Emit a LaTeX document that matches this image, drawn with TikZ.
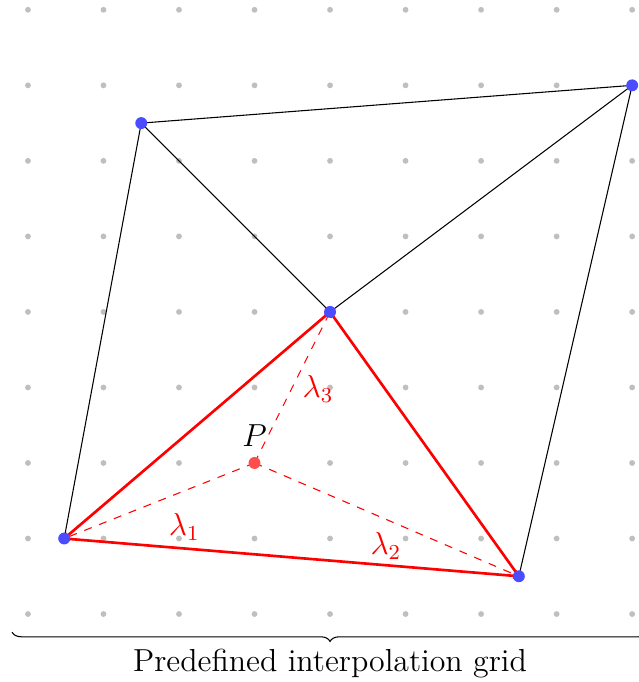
\documentclass[tikz,border=0pt]{standalone}
\usetikzlibrary{decorations.pathreplacing}
\begin{document}
\begin{tikzpicture}[
  griddot/.style={circle,fill=black!25,inner sep=0pt,minimum size=2.2pt},
  vert/.style={circle,fill=blue!70,inner sep=0pt,minimum size=4.5pt},
  pdot/.style={circle,fill=red!70,inner sep=0pt,minimum size=4.5pt},
  edge/.style={black,line width=0.4pt},
  redge/.style={red,line width=1pt},
  bary/.style={red,dashed,line width=0.4pt,->},
  lab/.style={red,font=\large}
]
\useasboundingbox (-0.37,-0.90) rectangle (8.08,8.13);
\foreach \i in {0,...,8}{\foreach \j in {0,...,8}{\node[griddot] (g\i\j) at (\i,\j) {};}}
\coordinate (A) at (0.48,1);
\coordinate (B) at (6.5,0.5);
\coordinate (C) at (4,4);
\coordinate (D) at (1.5,6.5);
\coordinate (E) at (8,7);
\coordinate (P) at (3,2);
\draw[edge] (A) -- (D) -- (E) -- (B);
\draw[edge] (D) -- (C) -- (E);
\draw[redge] (A) -- (C) -- (B) -- cycle;
\draw[bary] (P) -- (A);
\draw[bary] (P) -- (B);
\draw[bary] (P) -- (C);
\foreach \v in {A,B,C,D,E}{\node[vert] at (\v) {};}
\node[pdot] (Pd) at (P) {};
\node[font=\large] (Pl) at (3.0,2.36) {$P$};
\node[lab] (l1) at (2.07,1.15) {$\lambda_1$};
\node[lab] (l2) at (4.74,0.90) {$\lambda_2$};
\node[lab] (l3) at (3.84,2.98) {$\lambda_3$};
\coordinate (bl) at (-0.21,-0.24);
\coordinate (br) at (8.21,-0.24);
\draw[decorate,decoration={brace,mirror,amplitude=3.5pt}] (bl) -- (br);
\node[font=\large] (cap) at (4.0,-0.65) {Predefined interpolation grid};
\end{tikzpicture}
\end{document}
